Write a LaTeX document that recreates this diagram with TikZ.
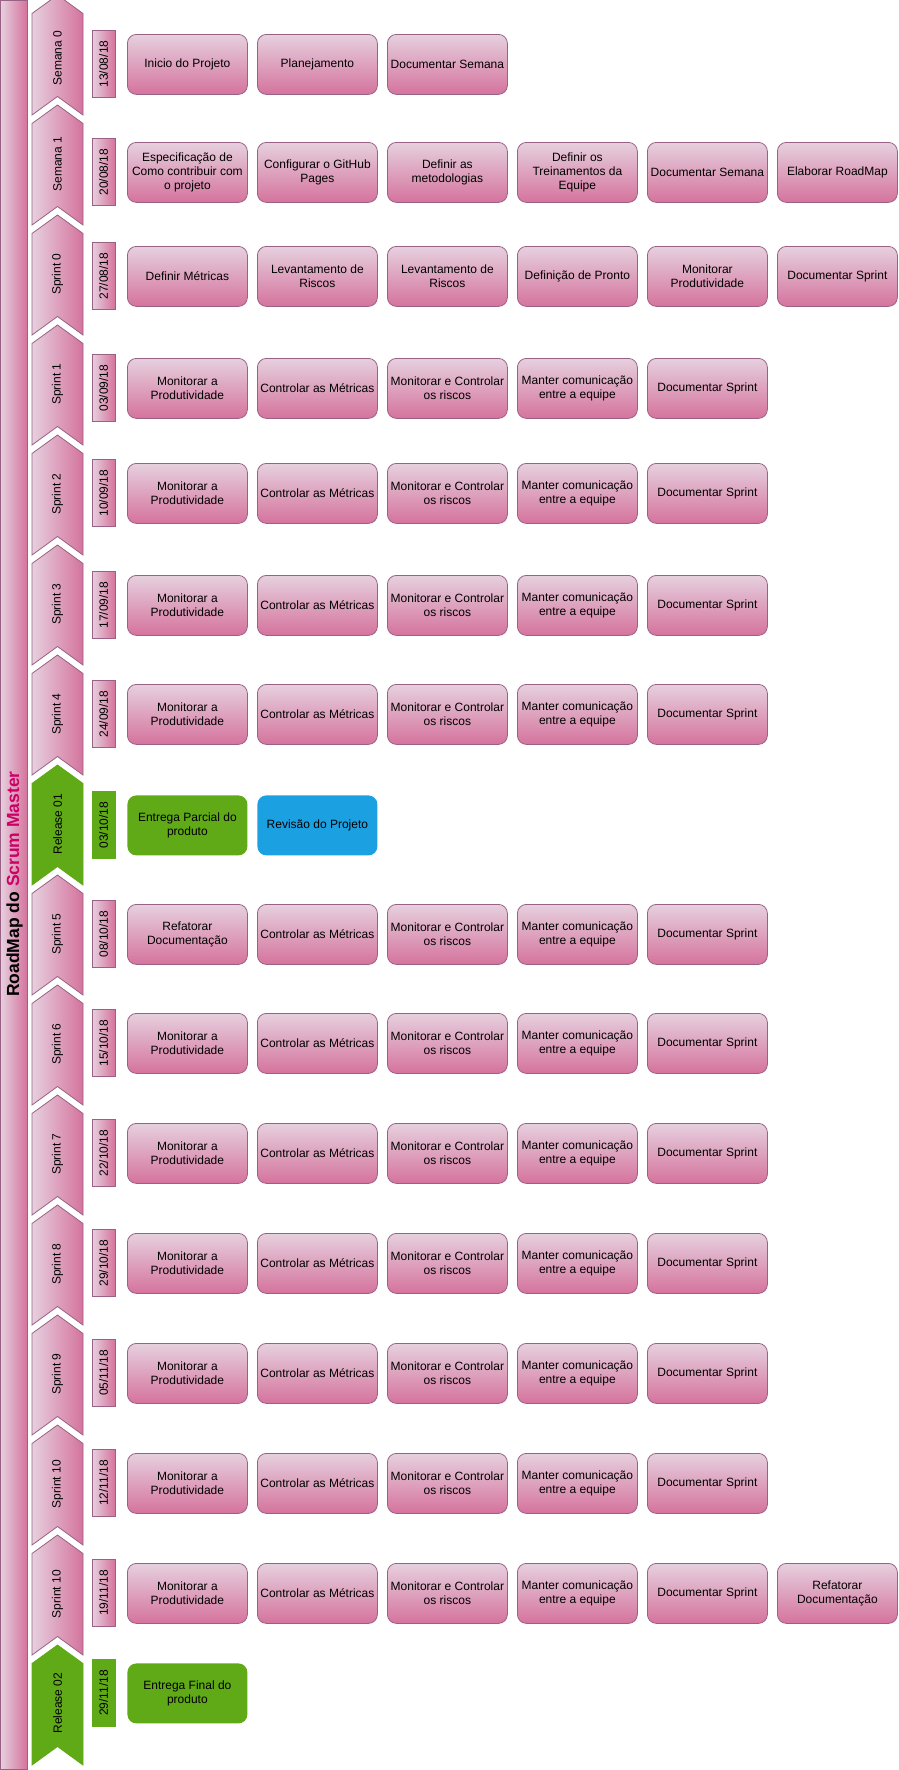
\documentclass[tikz,border=0pt]{standalone}
\usepackage{fontspec}
\setmainfont{Liberation Sans}
\definecolor{pkL}{HTML}{E6D0DE}
\definecolor{pkD}{HTML}{D5739D}
\definecolor{pkS}{HTML}{996185}
\definecolor{gr}{HTML}{60A917}
\definecolor{bl}{HTML}{1BA1E2}
\definecolor{mag}{HTML}{CC0066}
\tikzset{
  txt/.style={font=\fontsize{12}{14}\selectfont, text=black},
  task/.style={txt, rounded corners=9pt, minimum width=120pt, minimum height=60pt,
    inner sep=0pt, align=center, anchor=north west, line width=0.8pt},
  pinktask/.style={task, draw=pkS, top color=pkL, bottom color=pkD},
  greentask/.style={task, fill=gr},
  bluetask/.style={task, fill=bl},
  datebox/.style={txt, minimum width=23pt, minimum height=67pt, inner sep=0pt, line width=0.8pt},
  chevlabel/.style={txt, rotate=90, inner sep=0pt},
}
\begin{document}
\begin{tikzpicture}[x=1pt, y=-1pt]
\useasboundingbox (0,0) rectangle (898,1770);
% left bar
\path[draw=pkS, line width=0.8pt, left color=pkL, right color=pkD] (0.5,0.5) rectangle (27,1769);
\node[rotate=90, font=\bfseries\fontsize{17.5}{21}\selectfont] (title) at (14.5,884)
  {RoadMap do \textcolor{mag}{Scrum Master}};
% chevrons
\foreach \k/\lab/\lc/\rc/\sc/\dy in {
  0/Semana 0/pkL/pkD/pkS/63, 1/Semana 1/pkL/pkD/pkS/59, 2/Sprint 0/pkL/pkD/pkS/59,
  3/Sprint 1/pkL/pkD/pkS/59, 4/Sprint 2/pkL/pkD/pkS/59, 5/Sprint 3/pkL/pkD/pkS/59,
  6/Sprint 4/pkL/pkD/pkS/59, 7/Release 01/gr/gr/gr/59, 8/Sprint 5/pkL/pkD/pkS/59,
  9/Sprint 6/pkL/pkD/pkS/59, 10/Sprint 7/pkL/pkD/pkS/59, 11/Sprint 8/pkL/pkD/pkS/59,
  12/Sprint 9/pkL/pkD/pkS/59, 13/Sprint 10/pkL/pkD/pkS/59, 14/Sprint 10/pkL/pkD/pkS/59,
  15/Release 02/gr/gr/gr/58} {
  \pgfmathsetmacro\t{110*\k-5}
  \path[draw=\sc, line width=0.8pt, left color=\lc, right color=\rc]
    (32,\t+18.5) -- (57.5,\t) -- (83,\t+18.5) -- (83,\t+120) -- (57.5,\t+101.5) -- (32,\t+120) -- cycle;
  \node[chevlabel] (c\k) at (57.5,\t+\dy) {\lab};
}
% date boxes
\foreach \k/\cy/\d/\lc/\rc/\sc in {
  0/64/13\slash 08\slash 18/pkL/pkD/pkS, 1/172/20\slash 08\slash 18/pkL/pkD/pkS,
  2/276/27\slash 08\slash 18/pkL/pkD/pkS, 3/388/03\slash 09\slash 18/pkL/pkD/pkS,
  4/493/10\slash 09\slash 18/pkL/pkD/pkS, 5/605/17\slash 09\slash 18/pkL/pkD/pkS,
  6/714/24\slash 09\slash 18/pkL/pkD/pkS, 7/825/03\slash 10\slash 18/gr/gr/gr,
  8/934/08\slash 10\slash 18/pkL/pkD/pkS, 9/1043/15\slash 10\slash 18/pkL/pkD/pkS,
  10/1153/22\slash 10\slash 18/pkL/pkD/pkS, 11/1263/29\slash 10\slash 18/pkL/pkD/pkS,
  12/1373/05\slash 11\slash 18/pkL/pkD/pkS, 13/1483/12\slash 11\slash 18/pkL/pkD/pkS,
  14/1593/19\slash 11\slash 18/pkL/pkD/pkS, 15/1693/29\slash 11\slash 18/gr/gr/gr} {
  \node[datebox, draw=\sc, left color=\lc, right color=\rc] (d\k) at (103.5,\cy)
    {\rotatebox{90}{\d}};
}
% row 0
\foreach \s [count=\i from 0] in {Inicio do Projeto, Planejamento, Documentar Semana}
  \node[pinktask] (t0-\i) at ({127+130*\i},34) {\s};
% row 1
\foreach \s [count=\i from 0] in {Especificação de\\Como contribuir com\\o projeto,
  Configurar o GitHub\\Pages, Definir as\\metodologias, Definir os\\Treinamentos da\\Equipe,
  Documentar Semana, Elaborar RoadMap}
  \node[pinktask] (t1-\i) at ({127+130*\i},142) {\s};
% row 2
\foreach \s [count=\i from 0] in {Definir Métricas, Levantamento de\\Riscos,
  Levantamento de\\Riscos, Definição de Pronto, Monitorar\\Produtividade, Documentar Sprint}
  \node[pinktask] (t2-\i) at ({127+130*\i},246) {\s};
% standard sprint rows
\foreach \r/\top in {3/358, 4/463, 5/575, 6/684, 9/1013, 10/1123, 11/1233, 12/1343, 13/1453, 14/1563} {
  \foreach \s [count=\i from 0] in {Monitorar a\\Produtividade, Controlar as Métricas,
    Monitorar e Controlar\\os riscos, Manter comunicação\\entre a equipe, Documentar Sprint}
    \node[pinktask] (t\r-\i) at ({127+130*\i},\top) {\s};
}
\node[pinktask] (t14-5) at (777,1563) {Refatorar\\Documentação};
% row 7 (release 01)
\node[greentask] (t7-0) at (127,795) {Entrega Parcial do\\produto};
\node[bluetask] (t7-1) at (257,795) {Revisão do Projeto};
% row 8
\foreach \s [count=\i from 0] in {Refatorar\\Documentação, Controlar as Métricas,
  Monitorar e Controlar\\os riscos, Manter comunicação\\entre a equipe, Documentar Sprint}
  \node[pinktask] (t8-\i) at ({127+130*\i},904) {\s};
% row 15 (release 02)
\node[greentask] (t15-0) at (127,1663) {Entrega Final do\\produto};
\end{tikzpicture}
\end{document}
